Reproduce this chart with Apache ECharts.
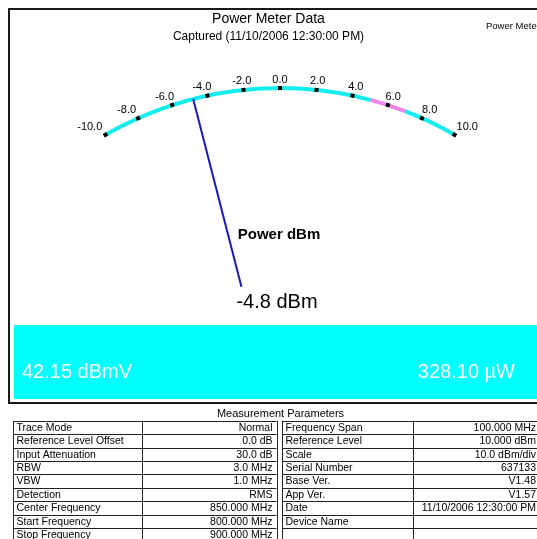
<!DOCTYPE html>
<html>
<head>
<meta charset="utf-8">
<title>Power Meter Data</title>
<script src="https://cdn.jsdelivr.net/npm/echarts@6/dist/echarts.min.js"></script>
<style>
  html, body { margin: 0; padding: 0; background: #fff; }
  #chart { width: 537px; height: 539px; }
</style>
</head>
<body>
<div id="chart"></div>
<script>
// ---- meter reading ----
const meterName = 'Power dBm';
const meterValue = -4.8;
const meterUnit = 'dBm';
const scaleMin = -10;
const scaleMax = 10;
const scaleSplits = 10;
// warning band on the scale (dBm)
const bandFrom = 5;
const bandTo = 7;

// ---- headings and converted readings ----
const chartTitle = 'Power Meter Data';
const chartSubtitle = 'Captured (11/10/2006 12:30:00 PM)';
const cornerLabel = 'Power Meter';
const readingDbmv = '42.15 dBmV';
const readingWatts = '328.10 µW';

// ---- measurement parameters table ----
const tableTitle = 'Measurement Parameters';
const leftNames = ['Trace Mode', 'Reference Level Offset', 'Input Attenuation', 'RBW', 'VBW',
  'Detection', 'Center Frequency', 'Start Frequency', 'Stop Frequency'];
const leftValues = ['Normal', '0.0 dB', '30.0 dB', '3.0 MHz', '1.0 MHz',
  'RMS', '850.000 MHz', '800.000 MHz', '900.000 MHz'];
const rightNames = ['Frequency Span', 'Reference Level', 'Scale', 'Serial Number', 'Base Ver.',
  'App Ver.', 'Date', 'Device Name', ''];
const rightValues = ['100.000 MHz', '10.000 dBm', '10.0 dBm/div', '637133', 'V1.48',
  'V1.57', '11/10/2006 12:30:00 PM', '', ''];

const FONT = '"Liberation Sans", Arial, sans-serif';
const CYAN = '#12eded';
const VIOLET = '#ee82ee';

// horizontal nudge (px) of each scale label, from -10 to 10
const labelNudge = [-11.5, -8, -5, -3.8, -0.8, 0, 0.4, 1.5, 2.7, 4.2, 8.5];
const labelRich = {};
labelNudge.forEach(function (s, i) {
  labelRich['t' + i] = {
    fontSize: 11, fontFamily: FONT, color: '#000',
    padding: s < 0 ? [0, -2 * s, 0, 0] : [0, 0, 0, 2 * s]
  };
});

// ---- table drawing ----
const rowTop = 420.8;
const rowH = 13.4;
const tables = [
  { x0: 13, x1: 142, x2: 276.5, names: leftNames, values: leftValues },
  { x0: 282, x1: 412.5, x2: 540, names: rightNames, values: rightValues }
];
const gfx = [];
// outer frame and reading panel
gfx.push({ type: 'rect', shape: { x: 9, y: 9, width: 540, height: 394 },
  style: { fill: '#fff', stroke: '#1a1a1a', lineWidth: 2 }, z: -10 });
gfx.push({ type: 'rect', shape: { x: 14, y: 325, width: 530, height: 74 },
  style: { fill: '#00ffff' }, z: -9 });
gfx.push({ type: 'text', x: 22, y: 372, style: { text: readingDbmv, fill: '#fff',
  font: '20px ' + FONT, textAlign: 'left', textVerticalAlign: 'middle' } });
gfx.push({ type: 'text', x: 515, y: 372, style: { text: readingWatts, fill: '#fff',
  font: '20px ' + FONT, textAlign: 'right', textVerticalAlign: 'middle' } });
gfx.push({ type: 'text', x: 486, y: 26, style: { text: cornerLabel, fill: '#000',
  font: '9.5px ' + FONT, textAlign: 'left', textVerticalAlign: 'middle' } });
gfx.push({ type: 'text', x: 280.5, y: 414, style: { text: tableTitle, fill: '#000',
  font: '11px ' + FONT, textAlign: 'center', textVerticalAlign: 'middle' } });

tables.forEach(function (t) {
  const n = t.names.length;
  const bottom = rowTop + n * rowH;
  // horizontal rules
  for (let r = 0; r <= n; r++) {
    const y = Math.round(rowTop + r * rowH) + 0.5;
    gfx.push({ type: 'line', shape: { x1: t.x0, y1: y, x2: t.x2, y2: y },
      style: { stroke: '#222', lineWidth: 1 } });
  }
  // vertical rules
  [t.x0, t.x1, t.x2].forEach(function (x) {
    const xx = Math.round(x) + 0.5;
    gfx.push({ type: 'line', shape: { x1: xx, y1: rowTop, x2: xx, y2: bottom },
      style: { stroke: '#222', lineWidth: 1 } });
  });
  // cell texts
  for (let r = 0; r < n; r++) {
    const cy = rowTop + (r + 0.5) * rowH + 0.5;
    gfx.push({ type: 'text', x: t.x0 + 3.5, y: cy, style: { text: t.names[r], fill: '#000',
      font: '10.5px ' + FONT, textAlign: 'left', textVerticalAlign: 'middle' } });
    gfx.push({ type: 'text', x: t.x2 - 4, y: cy, style: { text: t.values[r], fill: '#000',
      font: '10.5px ' + FONT, textAlign: 'right', textVerticalAlign: 'middle' } });
  }
});

const chart = echarts.init(document.getElementById('chart'), null, { renderer: 'canvas' });
chart.setOption({
  animation: false,
  backgroundColor: '#fff',
  title: {
    text: chartTitle,
    subtext: chartSubtitle,
    left: 'center',
    top: 7,
    itemGap: 5,
    textStyle: { fontFamily: FONT, fontSize: 14, fontWeight: 'normal', color: '#000' },
    subtextStyle: { fontFamily: FONT, fontSize: 12, color: '#000' }
  },
  graphic: gfx,
  series: [{
    type: 'gauge',
    center: [280, 437],
    radius: 351,
    startAngle: 120,
    endAngle: 60,
    min: scaleMin,
    max: scaleMax,
    splitNumber: scaleSplits,
    axisLine: {
      lineStyle: {
        width: 4,
        color: [
          [(bandFrom - scaleMin) / (scaleMax - scaleMin), CYAN],
          [(bandTo - scaleMin) / (scaleMax - scaleMin), VIOLET],
          [1, CYAN]
        ]
      }
    },
    axisTick: { show: false },
    // square markers sitting on the scale line
    splitLine: { length: 4, distance: -4, lineStyle: { width: 4, color: '#000' } },
    axisLabel: {
      distance: -6.5,
      rotate: 0.0001,
      color: '#000',
      fontSize: 11,
      fontFamily: FONT,
      rich: labelRich,
      formatter: function (v) {
        const i = Math.round((v - scaleMin) / ((scaleMax - scaleMin) / scaleSplits));
        return '{t' + i + '|' + v.toFixed(1) + '}';
      }
    },
    pointer: {
      icon: 'rect',
      width: 2,
      length: 194,
      offsetCenter: [0, -155]
    },
    itemStyle: { color: '#1a1ab4' },
    anchor: { show: false },
    progress: { show: false },
    title: {
      offsetCenter: [-1, -202],
      fontFamily: FONT,
      fontSize: 15,
      fontWeight: 'bold',
      color: '#000'
    },
    detail: {
      offsetCenter: [-3, -135],
      fontFamily: FONT,
      fontSize: 20,
      fontWeight: 'normal',
      color: '#000',
      formatter: function (v) { return v.toFixed(1) + ' ' + meterUnit; }
    },
    data: [{ value: meterValue, name: meterName }]
  }]
});
</script>
</body>
</html>
